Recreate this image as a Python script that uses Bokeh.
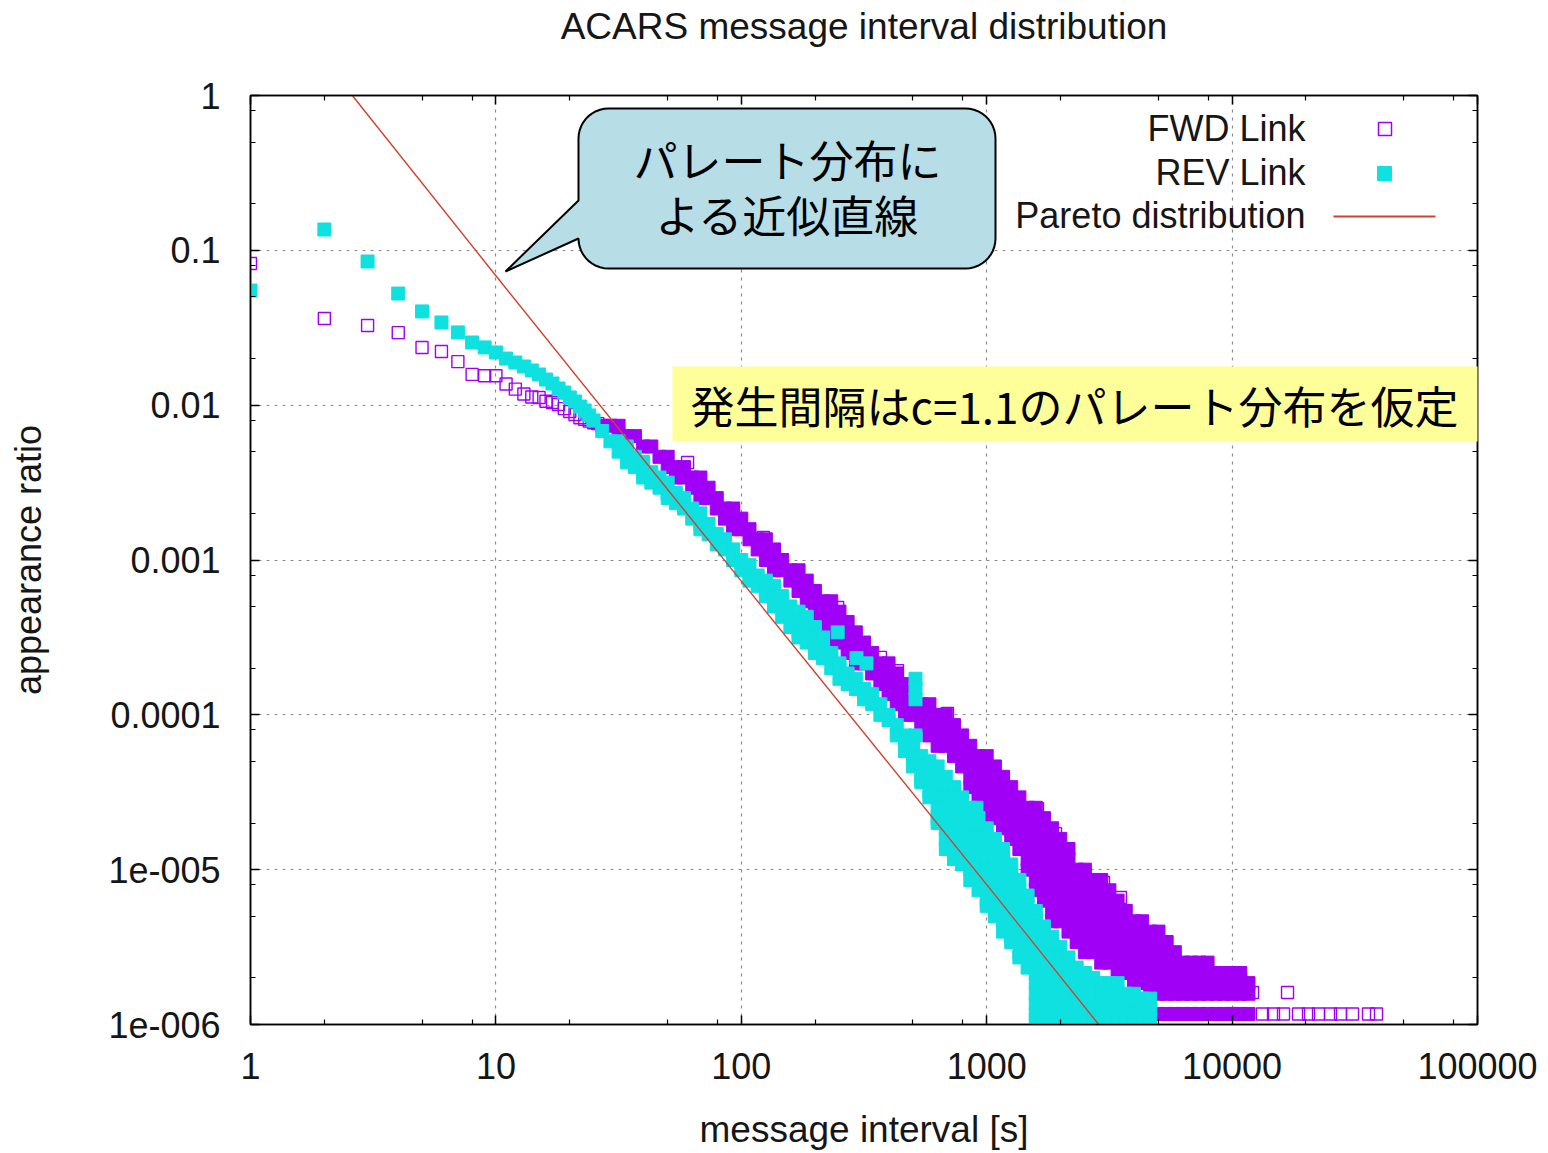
import numpy as np
from bokeh.plotting import figure
from bokeh.models import (FixedTicker, CustomJSTickFormatter, LogAxis, Label, Title,
                          BoxAnnotation, PolyAnnotation, Range1d, ColumnDataSource)
from bokeh.embed import file_html
from bokeh.resources import INLINE

# ---------------- data ----------------
x_ticks = [1, 10, 100, 1000, 10000, 100000]
x_tick_labels = ["1", "10", "100", "1000", "10000", "100000"]
y_ticks = [1e-6, 1e-5, 1e-4, 1e-3, 1e-2, 1e-1, 1]
y_tick_labels = ["1e-006", "1e-005", "0.0001", "0.001", "0.01", "0.1", "1"]

# FWD Link, isolated early intervals (1..26 s)
fwd_early_x = list(range(1, 27))
fwd_early_y = [0.0822, 0.0363, 0.0327, 0.0294, 0.0236, 0.0222, 0.0191, 0.0158, 0.0155, 0.0155,
               0.0137, 0.0127, 0.0118, 0.0113, 0.0112, 0.0106, 0.0104, 0.0101, 0.0095, 0.0091,
               0.0087, 0.0083, 0.0081, 0.0079, 0.0077, 0.0076]
# FWD Link, isolated points standing out of the dense band
fwd_out_x = [60.4, 92.9, 123, 179, 247, 369, 433, 692, 1611, 1907, 2992, 3510, 4117, 4966,
             5610, 6770, 7790, 9580, 10820, 11560, 12110, 16820,
             13300, 14750, 16200, 18650, 20480, 22500, 25180, 27650, 30950, 35960, 38770]
fwd_out_y = [4.26e-3, 2.09e-3, 1.40e-3, 7.05e-4, 4.93e-4, 2.35e-4, 1.93e-4, 1.02e-4, 2.48e-5,
             1.71e-5, 8.26e-6, 6.61e-6, 4.56e-6, 3.93e-6, 2.79e-6, 2.40e-6, 2.40e-6, 1.98e-6,
             1.98e-6, 1.61e-6, 1.61e-6, 1.61e-6,
             1.17e-6, 1.17e-6, 1.17e-6, 1.17e-6, 1.17e-6, 1.17e-6, 1.17e-6, 1.17e-6, 1.17e-6,
             1.17e-6, 1.17e-6]

# interval columns of the dense part [s]
col_x = [27.12, 29.29, 31.62, 34.15, 36.87, 39.81, 42.99, 46.42, 50.12, 54.12,
         58.43, 63.10, 68.13, 73.56, 79.43, 85.77, 92.61, 100.0, 108.0, 116.6,
         125.9, 135.9, 146.8, 158.5, 171.1, 184.8, 199.5, 215.4, 232.6, 251.2,
         271.2, 292.9, 316.2, 341.5, 368.7, 398.1, 429.9, 464.2, 501.2, 541.2,
         584.3, 631.0, 681.3, 735.6, 794.3, 857.7, 926.1, 1000, 1080, 1166,
         1259, 1359, 1468, 1585, 1711, 1848, 1995, 2154, 2326, 2512,
         2712, 2929, 3162, 3415, 3687, 3981, 4299, 4642, 5012, 5412,
         5843, 6310, 6813, 7356, 7943, 8577, 9261, 10000, 10800, 11660]

# FWD Link ratios found in each column
fwd_col_y = [
    [7.36e-3], [7.36e-3], [7.36e-3, 6.31e-3], [6.31e-3], [6.31e-3], [5.41e-3], [5.41e-3],
    [4.64e-3], [4.64e-3, 3.98e-3], [3.98e-3, 3.41e-3], [3.98e-3, 3.41e-3], [3.41e-3, 2.93e-3],
    [3.41e-3, 2.93e-3, 2.51e-3], [2.93e-3, 2.51e-3], [2.51e-3, 2.15e-3], [2.15e-3, 1.85e-3],
    [2.15e-3, 1.85e-3, 1.58e-3], [1.85e-3, 1.58e-3], [1.58e-3, 1.36e-3], [1.36e-3, 1.17e-3],
    [1.36e-3, 1.17e-3, 1.00e-3], [1.17e-3, 1.00e-3, 8.58e-4], [1.00e-3, 8.58e-4],
    [8.58e-4, 7.36e-4], [8.58e-4, 7.36e-4, 6.31e-4], [7.36e-4, 6.31e-4, 5.41e-4],
    [6.31e-4, 5.41e-4, 4.64e-4, 3.98e-4], [5.41e-4, 4.64e-4, 3.98e-4, 3.41e-4],
    [5.41e-4, 4.64e-4, 3.98e-4, 3.41e-4, 2.93e-4], [4.64e-4, 3.98e-4, 3.41e-4, 2.93e-4],
    [3.98e-4, 3.41e-4, 2.93e-4, 2.51e-4], [3.41e-4, 2.93e-4, 2.51e-4, 2.15e-4],
    [2.93e-4, 2.51e-4, 2.15e-4], [2.51e-4, 2.15e-4, 1.85e-4], [2.15e-4, 1.85e-4, 1.58e-4],
    [2.15e-4, 1.85e-4, 1.58e-4, 1.36e-4], [1.85e-4, 1.58e-4, 1.36e-4, 1.17e-4],
    [1.58e-4, 1.36e-4, 1.17e-4, 1.00e-4], [1.36e-4, 1.17e-4, 1.00e-4],
    [1.17e-4, 1.00e-4, 8.58e-5], [1.17e-4, 1.00e-4, 8.58e-5, 7.36e-5],
    [1.00e-4, 8.58e-5, 7.36e-5, 6.31e-5], [1.00e-4, 8.58e-5, 7.36e-5, 6.31e-5],
    [8.58e-5, 7.36e-5, 6.31e-5, 5.41e-5], [7.36e-5, 6.31e-5, 5.41e-5, 4.64e-5],
    [6.31e-5, 5.41e-5, 4.64e-5, 3.98e-5, 3.41e-5],
    [5.41e-5, 4.64e-5, 3.98e-5, 3.41e-5, 2.93e-5, 2.51e-5],
    [5.41e-5, 4.64e-5, 3.98e-5, 3.41e-5, 2.93e-5, 2.51e-5, 2.15e-5],
    [4.64e-5, 3.98e-5, 3.41e-5, 2.93e-5, 2.51e-5, 2.15e-5],
    [3.98e-5, 3.41e-5, 2.93e-5, 2.51e-5, 2.15e-5, 1.85e-5],
    [3.41e-5, 2.93e-5, 2.51e-5, 2.15e-5, 1.85e-5, 1.58e-5],
    [2.93e-5, 2.51e-5, 2.15e-5, 1.85e-5, 1.58e-5, 1.36e-5],
    [2.51e-5, 2.15e-5, 1.85e-5, 1.58e-5, 1.36e-5, 1.17e-5, 1.00e-5],
    [2.51e-5, 2.15e-5, 1.85e-5, 1.58e-5, 1.36e-5, 1.17e-5, 1.00e-5, 8.58e-6, 7.36e-6],
    [2.15e-5, 1.85e-5, 1.58e-5, 1.36e-5, 1.17e-5, 1.00e-5, 8.58e-6, 7.36e-6, 6.31e-6],
    [1.85e-5, 1.58e-5, 1.36e-5, 1.17e-5, 1.00e-5, 8.58e-6, 7.36e-6, 6.31e-6, 5.41e-6, 4.64e-6],
    [1.58e-5, 1.36e-5, 1.17e-5, 1.00e-5, 8.58e-6, 7.36e-6, 6.31e-6, 5.41e-6, 4.64e-6],
    [1.36e-5, 1.17e-5, 1.00e-5, 8.58e-6, 7.36e-6, 6.31e-6, 5.41e-6, 4.64e-6, 3.98e-6, 1.17e-6],
    [1.00e-5, 8.58e-6, 7.36e-6, 6.31e-6, 5.41e-6, 4.64e-6, 3.98e-6, 3.41e-6, 1.17e-6],
    [1.00e-5, 8.58e-6, 7.36e-6, 6.31e-6, 5.41e-6, 4.64e-6, 3.98e-6, 3.41e-6, 2.93e-6, 1.17e-6],
    [8.58e-6, 7.36e-6, 6.31e-6, 5.41e-6, 4.64e-6, 3.98e-6, 3.41e-6, 2.93e-6, 1.17e-6],
    [8.58e-6, 7.36e-6, 6.31e-6, 5.41e-6, 4.64e-6, 3.98e-6, 3.41e-6, 2.93e-6, 2.51e-6, 1.17e-6],
    [7.36e-6, 6.31e-6, 5.41e-6, 4.64e-6, 3.98e-6, 3.41e-6, 2.93e-6, 2.51e-6, 1.17e-6],
    [6.31e-6, 5.41e-6, 4.64e-6, 3.98e-6, 3.41e-6, 2.93e-6, 2.51e-6, 2.15e-6, 1.17e-6],
    [5.41e-6, 4.64e-6, 3.98e-6, 3.41e-6, 2.93e-6, 2.51e-6, 2.15e-6, 1.17e-6],
    [4.64e-6, 3.98e-6, 3.41e-6, 2.93e-6, 2.51e-6, 2.15e-6, 1.85e-6, 1.17e-6],
    [4.64e-6, 3.98e-6, 3.41e-6, 2.93e-6, 2.51e-6, 2.15e-6, 1.85e-6, 1.17e-6],
    [3.98e-6, 3.41e-6, 2.93e-6, 2.51e-6, 2.15e-6, 1.85e-6, 1.58e-6, 1.17e-6],
    [3.98e-6, 3.41e-6, 2.93e-6, 2.51e-6, 2.15e-6, 1.85e-6, 1.58e-6, 1.17e-6],
    [3.41e-6, 2.93e-6, 2.51e-6, 2.15e-6, 1.85e-6, 1.58e-6, 1.17e-6],
    [2.93e-6, 2.51e-6, 2.15e-6, 1.85e-6, 1.58e-6, 1.17e-6],
    [2.51e-6, 2.15e-6, 1.85e-6, 1.58e-6, 1.17e-6],
    [2.51e-6, 2.15e-6, 1.85e-6, 1.58e-6, 1.17e-6],
    [2.51e-6, 2.15e-6, 1.85e-6, 1.58e-6, 1.17e-6],
    [2.51e-6, 2.15e-6, 1.85e-6, 1.58e-6, 1.17e-6],
    [2.15e-6, 1.85e-6, 1.58e-6, 1.17e-6],
    [2.15e-6, 1.85e-6, 1.58e-6, 1.17e-6],
    [2.15e-6, 1.85e-6, 1.58e-6, 1.17e-6],
    [2.15e-6, 1.85e-6, 1.58e-6, 1.17e-6],
    [1.85e-6, 1.58e-6, 1.17e-6],
]

# REV Link, isolated early intervals (1..25 s)
rev_early_x = list(range(1, 26))
rev_early_y = [0.055, 0.1363, 0.0847, 0.0526, 0.0403, 0.0342, 0.0295, 0.0254, 0.0236, 0.0219,
               0.0200, 0.01886, 0.01777, 0.01675, 0.01578, 0.01464, 0.0138, 0.01281, 0.01207,
               0.01121, 0.01056, 0.0098, 0.00924, 0.00858, 0.00796]
# REV Link ratios found in each column (first 68 columns)
rev_col_y = [
    [6.81e-3], [5.84e-3], [5.84e-3, 5.01e-3], [5.41e-3, 5.01e-3, 4.30e-3], [4.64e-3, 3.98e-3],
    [4.30e-3, 3.69e-3, 3.41e-3], [3.69e-3, 3.16e-3], [3.41e-3, 2.93e-3],
    [3.16e-3, 2.71e-3, 2.51e-3], [2.71e-3, 2.33e-3], [2.51e-3, 2.15e-3], [2.15e-3, 1.85e-3],
    [2.00e-3, 1.71e-3, 1.58e-3], [1.71e-3, 1.47e-3], [1.47e-3, 1.26e-3], [1.36e-3, 1.17e-3],
    [1.17e-3, 1.00e-3], [1.00e-3, 8.58e-4], [9.26e-4, 7.94e-4, 7.36e-4], [7.94e-4, 6.81e-4],
    [7.36e-4, 6.31e-4, 5.84e-4], [6.81e-4, 5.84e-4, 5.01e-4], [5.84e-4, 5.01e-4, 4.30e-4],
    [5.01e-4, 4.30e-4, 3.69e-4], [4.64e-4, 3.98e-4, 3.41e-4, 3.16e-4],
    [4.30e-4, 3.69e-4, 3.41e-4, 2.93e-4], [3.69e-4, 3.16e-4, 2.71e-4, 2.51e-4],
    [3.16e-4, 2.71e-4, 2.33e-4], [2.51e-4, 2.33e-4, 2.00e-4], [2.15e-4, 2.00e-4, 1.71e-4],
    [1.85e-4, 1.58e-4], [1.71e-4, 1.47e-4], [1.47e-4, 1.26e-4], [1.36e-4, 1.17e-4],
    [1.17e-4, 1.00e-4], [1.00e-4, 9.26e-5], [8.58e-5, 7.36e-5], [7.36e-5, 6.81e-5, 5.84e-5],
    [6.31e-5, 5.41e-5, 4.64e-5], [5.41e-5, 4.64e-5, 3.98e-5, 3.69e-5],
    [5.01e-5, 4.30e-5, 3.69e-5, 3.16e-5, 2.93e-5],
    [4.64e-5, 3.98e-5, 3.41e-5, 2.93e-5, 2.51e-5, 2.15e-5, 2.00e-5],
    [3.98e-5, 3.41e-5, 2.93e-5, 2.51e-5, 2.15e-5, 1.85e-5, 1.58e-5, 1.36e-5],
    [3.41e-5, 2.93e-5, 2.51e-5, 2.15e-5, 1.85e-5, 1.58e-5, 1.36e-5, 1.17e-5],
    [2.93e-5, 2.51e-5, 2.15e-5, 1.85e-5, 1.58e-5, 1.36e-5, 1.17e-5, 1.08e-5],
    [2.51e-5, 2.15e-5, 1.85e-5, 1.58e-5, 1.36e-5, 1.17e-5, 1.00e-5, 8.58e-6],
    [2.15e-5, 1.85e-5, 1.58e-5, 1.36e-5, 1.17e-5, 1.00e-5, 8.58e-6, 7.36e-6],
    [1.85e-5, 1.58e-5, 1.36e-5, 1.17e-5, 1.00e-5, 8.58e-6, 7.36e-6, 6.31e-6, 5.84e-6],
    [1.58e-5, 1.36e-5, 1.17e-5, 1.00e-5, 8.58e-6, 7.36e-6, 6.31e-6, 5.41e-6, 5.01e-6],
    [1.36e-5, 1.17e-5, 1.00e-5, 8.58e-6, 7.36e-6, 6.31e-6, 5.41e-6, 4.64e-6, 3.98e-6],
    [1.08e-5, 9.26e-6, 7.94e-6, 6.81e-6, 5.84e-6, 5.01e-6, 4.30e-6, 3.69e-6, 3.41e-6],
    [8.58e-6, 7.36e-6, 6.31e-6, 5.41e-6, 4.64e-6, 3.98e-6, 3.41e-6, 2.93e-6, 2.71e-6],
    [6.81e-6, 5.84e-6, 5.01e-6, 4.30e-6, 3.69e-6, 3.16e-6, 2.71e-6, 2.33e-6],
    [5.41e-6, 4.64e-6, 3.98e-6, 3.41e-6, 2.93e-6, 2.51e-6, 2.15e-6, 1.85e-6, 1.58e-6, 1.36e-6,
     1.17e-6, 1.08e-6],
    [4.30e-6, 3.69e-6, 3.16e-6, 2.71e-6, 2.33e-6, 2.00e-6, 1.71e-6, 1.47e-6, 1.26e-6, 1.08e-6],
    [3.69e-6, 3.16e-6, 2.71e-6, 2.33e-6, 2.00e-6, 1.71e-6, 1.47e-6, 1.26e-6, 1.08e-6],
    [3.16e-6, 2.71e-6, 2.33e-6, 2.00e-6, 1.71e-6, 1.47e-6, 1.26e-6, 1.08e-6],
    [2.71e-6, 2.33e-6, 2.00e-6, 1.71e-6, 1.47e-6, 1.26e-6, 1.08e-6],
    [2.33e-6, 2.00e-6, 1.71e-6, 1.47e-6, 1.26e-6, 1.08e-6],
    [2.15e-6, 1.85e-6, 1.58e-6, 1.36e-6, 1.17e-6, 1.08e-6],
    [2.00e-6, 1.71e-6, 1.47e-6, 1.26e-6, 1.08e-6],
    [1.85e-6, 1.58e-6, 1.36e-6, 1.17e-6, 1.08e-6],
    [1.85e-6, 1.58e-6, 1.36e-6, 1.17e-6, 1.08e-6],
    [1.85e-6, 1.58e-6, 1.36e-6, 1.17e-6, 1.08e-6],
    [1.58e-6, 1.36e-6, 1.17e-6, 1.08e-6],
    [1.58e-6, 1.36e-6, 1.17e-6, 1.08e-6],
    [1.47e-6, 1.26e-6, 1.08e-6],
    [1.47e-6, 1.26e-6, 1.08e-6],
]
# REV Link isolated points inside the FWD band
rev_out_x = [247, 294.7, 323.7, 512.7, 512.7, 512.7, 512.7, 908.7, 908.7]
rev_out_y = [3.41e-4, 2.33e-4, 2.15e-4, 1.71e-4, 1.47e-4, 1.26e-4, 7.36e-5, 2.51e-5, 2.00e-5]

# Pareto distribution (c = 1.1) line as drawn
pareto_x = [2.6, 10, 100, 1000, 2860]
pareto_y = [1.0, 6.85e-2, 7.3e-4, 8.0e-6, 1.0e-6]

# ---------------- build sources ----------------
def flatten(xs, yss):
    ox, oy = [], []
    for x, ys in zip(xs, yss):
        for y in ys:
            ox.append(x)
            oy.append(y)
    return ox, oy

fcx, fcy = flatten(col_x, fwd_col_y)
rcx, rcy = flatten(col_x[:len(rev_col_y)], rev_col_y)

fwd_sparse = ColumnDataSource(dict(x=fwd_early_x + fwd_out_x, y=fwd_early_y + fwd_out_y))
fwd_core = ColumnDataSource(dict(x=fcx, y=fcy))
rev_src = ColumnDataSource(dict(x=rev_early_x + rcx + rev_out_x, y=rev_early_y + rcy + rev_out_y))

FWD_C = "#a000f5"
REV_C = "#0fe0e0"
PAR_C = "#d2402e"
TXT = "#161616"
FONT = "Liberation Sans"
JP = "Noto Sans CJK JP"

W, H = 1548, 1153
p = figure(width=W, height=H, x_axis_type="log", y_axis_type="log",
           x_range=Range1d(1, 1e5), y_range=Range1d(1e-6, 1),
           output_backend="svg", toolbar_location=None,
           title="ACARS message interval distribution",
           min_border_left=250, min_border_right=71, min_border_top=95, min_border_bottom=129)
p.background_fill_color = "white"
p.border_fill_color = "white"
p.outline_line_color = "black"
p.outline_line_width = 1.5

p.title.align = "center"
p.title.text_font = FONT
p.title.text_font_size = "37px"
p.title.text_font_style = "normal"
p.title.text_color = TXT
p.title.standoff = 0

x_minor = [2, 5, 8, 20, 50, 80, 200, 500, 800, 2000, 5000, 8000, 20000, 50000, 80000]
y_minor = [2e-6, 5e-6, 8e-6, 2e-5, 5e-5, 8e-5, 2e-4, 5e-4, 8e-4, 2e-3, 5e-3, 8e-3,
           0.02, 0.05, 0.08, 0.2, 0.5, 0.8]

JS = """
let best = 0, bd = Infinity;
const lt = Math.log10(tick);
for (let i = 0; i < tv.length; i++) {
  const d = Math.abs(lt - Math.log10(tv[i]));
  if (d < bd) { bd = d; best = i; }
}
return tl[best];
"""

def style_axis(ax):
    ax.major_tick_in = 9
    ax.major_tick_out = 0
    ax.minor_tick_in = 5
    ax.minor_tick_out = 0
    ax.axis_line_width = 1.5
    ax.axis_line_color = "black"
    ax.major_tick_line_width = 1.5
    ax.minor_tick_line_width = 1.2
    ax.major_tick_line_color = "black"
    ax.minor_tick_line_color = "black"
    ax.major_label_text_font = FONT
    ax.major_label_text_font_size = "36px"
    ax.major_label_text_color = TXT
    ax.axis_label_text_font = FONT
    ax.axis_label_text_font_style = "normal"
    ax.axis_label_text_color = TXT

xa = p.xaxis[0]
ya = p.yaxis[0]
xa.ticker = FixedTicker(ticks=x_ticks, minor_ticks=x_minor)
ya.ticker = FixedTicker(ticks=y_ticks, minor_ticks=y_minor)
xa.formatter = CustomJSTickFormatter(args=dict(tv=x_ticks, tl=x_tick_labels), code=JS)
ya.formatter = CustomJSTickFormatter(args=dict(tv=y_ticks, tl=y_tick_labels), code=JS)
style_axis(xa)
style_axis(ya)
xa.major_label_standoff = 28
ya.major_label_standoff = 30
xa.axis_label = "message interval [s]"
xa.axis_label_text_font_size = "37px"
xa.axis_label_standoff = 27
ya.axis_label = "appearance ratio"
ya.axis_label_text_font_size = "36px"
ya.axis_label_standoff = 56

top = LogAxis(ticker=FixedTicker(ticks=x_ticks, minor_ticks=x_minor),
              formatter=CustomJSTickFormatter(code="return '';"))
right = LogAxis(ticker=FixedTicker(ticks=y_ticks, minor_ticks=y_minor),
                formatter=CustomJSTickFormatter(code="return '';"))
style_axis(top)
style_axis(right)
for ax in (top, right):
    ax.major_label_text_font_size = "0px"
    ax.major_label_standoff = 0
p.add_layout(top, "above")
p.add_layout(right, "right")
# empty spacer between the top border and the title
p.add_layout(Title(text=" ", text_font_size="2px", standoff=45), "above")

p.xgrid.ticker = FixedTicker(ticks=x_ticks[1:-1])
p.ygrid.ticker = FixedTicker(ticks=y_ticks[1:-1])
for g in (p.xgrid[0], p.ygrid[0]):
    g.grid_line_color = "#8c8c8c"
    g.grid_line_dash = "3 5"
    g.grid_line_width = 1.2

# ---------------- marks ----------------
p.scatter("x", "y", source=fwd_sparse, marker="square", size=12,
          fill_color=None, line_color=FWD_C, line_width=1.4)
p.scatter("x", "y", source=fwd_core, marker="square", size=13,
          fill_color=FWD_C, line_color=FWD_C, line_width=1)
p.scatter("x", "y", source=rev_src, marker="square", size=13,
          fill_color=REV_C, line_color=REV_C, line_width=1)
p.line(pareto_x, pareto_y, line_color=PAR_C, line_width=1.4)

# ---------------- annotations (page pixels, origin top-left) ----------------
def label(px, py, text, size, align="center", font=FONT, color=TXT):
    p.add_layout(Label(x=px, y=py, x_units="canvas", y_units="canvas", text=text,
                       text_align=align, text_baseline="middle", text_font=font,
                       text_font_size=size, text_color=color))

# legend (text on the left, sample on the right)
label(1305, 128, "FWD Link", "36px", align="right")
label(1305, 172, "REV Link", "36px", align="right")
label(1305, 215, "Pareto distribution", "36px", align="right")

def box(l, r, t, b, **kw):
    p.add_layout(BoxAnnotation(left=l, right=r, top=t, bottom=b,
                               left_units="canvas", right_units="canvas",
                               top_units="canvas", bottom_units="canvas", **kw))

box(1378, 1391, 122, 135, fill_alpha=0, line_color=FWD_C, line_alpha=1, line_width=1.5)
box(1377, 1391, 166, 180, fill_color=REV_C, fill_alpha=1, line_color=REV_C, line_alpha=1,
    line_width=1)
box(1333, 1435, 215, 217, fill_color=PAR_C, fill_alpha=1, line_color=None)

# speech bubble
L, R, T, B, r = 578, 995, 108, 268, 30
bx, by = [], []
for (ccx, ccy, a0, a1) in [(L + r, T + r, 180, 270), (R - r, T + r, 270, 360),
                           (R - r, B - r, 0, 90), (L + r, B - r, 90, 180)]:
    t = np.radians(np.linspace(a0, a1, 12))
    bx += list(ccx + r * np.cos(t))
    by += list(ccy + r * np.sin(t))
bx += [505, L]
by += [271, 200]
p.add_layout(PolyAnnotation(xs=bx, ys=by, xs_units="canvas", ys_units="canvas",
                            fill_color="#b7dde6", fill_alpha=1,
                            line_color="black", line_alpha=1, line_width=2))
label(787, 158, "パレート分布に", "44px", font=JP, color="black")
label(787, 213, "よる近似直線", "44px", font=JP, color="black")

# yellow note
box(672, 1519, 366, 441, fill_color="#ffff99", fill_alpha=1, line_color=None)
label(1074, 404, "発生間隔はc=1.1のパレート分布を仮定", "44px", font=JP, color="black")

open("out.html", "w").write(file_html(p, INLINE))
